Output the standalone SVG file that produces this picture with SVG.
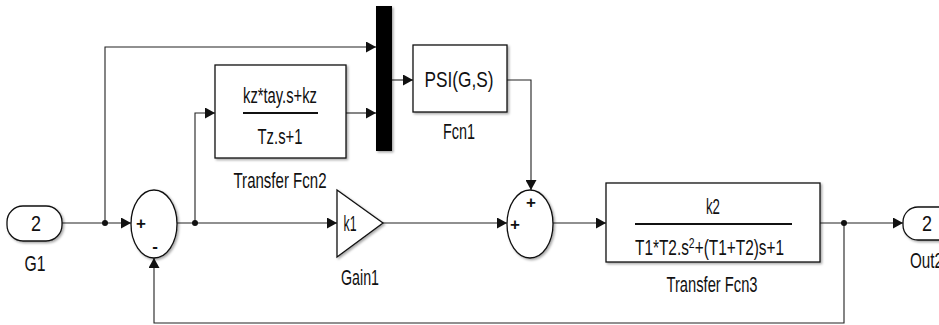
<svg xmlns="http://www.w3.org/2000/svg" width="939" height="325" viewBox="0 0 939 325">
<defs>
<style>
.blk{fill:#fff;stroke:#111;stroke-width:1.3}
.w{fill:none;stroke:#222;stroke-width:1.1}
.t{font-family:"Liberation Sans",Arial,sans-serif;font-size:22px;fill:#111}
.s{font-family:"Liberation Sans",Arial,sans-serif;font-size:17px;fill:#111;font-weight:bold;text-anchor:middle}
.m{text-anchor:middle}
.dot{fill:#111}
</style>
<marker id="ah" markerWidth="10" markerHeight="11" refX="10" refY="5.5" orient="auto" markerUnits="userSpaceOnUse">
<path d="M0,0 L10,5.5 L0,11 Z" fill="#111"/>
</marker>
<filter id="sh" x="-10%" y="-10%" width="130%" height="130%">
<feDropShadow dx="1.5" dy="1.5" stdDeviation="1" flood-color="#000" flood-opacity="0.35"/>
</filter>
</defs>

<g id="connectors">
<path class="w" d="M62,223 H131" marker-end="url(#ah)"/>
<path class="w" d="M105,223 V47 H376" marker-end="url(#ah)"/>
<path class="w" d="M177,223 H337" marker-end="url(#ah)"/>
<path class="w" d="M195,223 V113 H215" marker-end="url(#ah)"/>
<path class="w" d="M346,113 H376" marker-end="url(#ah)"/>
<path class="w" d="M392,80 H413" marker-end="url(#ah)"/>
<path class="w" d="M507,80 H531 V190" marker-end="url(#ah)"/>
<path class="w" d="M383,223 H507" marker-end="url(#ah)"/>
<path class="w" d="M552,223 H606" marker-end="url(#ah)"/>
<path class="w" d="M820,223 H903" marker-end="url(#ah)"/>
<path class="w" d="M844,223 V323 H154 V258" marker-end="url(#ah)"/>
<circle class="dot" cx="105" cy="223" r="3"/>
<circle class="dot" cx="195" cy="223" r="3"/>
<circle class="dot" cx="844" cy="223" r="3"/>
</g>

<g id="G1">
<rect class="blk" x="7" y="206" width="55" height="35" rx="16" filter="url(#sh)"/>
<text class="t m" x="36" y="231" textLength="10" lengthAdjust="spacingAndGlyphs">2</text>
<text class="t m" x="35" y="271" textLength="21" lengthAdjust="spacingAndGlyphs">G1</text>
</g>

<g id="Sum1">
<ellipse class="blk" cx="154" cy="224" rx="23" ry="34" filter="url(#sh)"/>
<text class="s" x="141" y="229">+</text>
<text class="s" x="155" y="252">-</text>
</g>

<g id="TransferFcn2">
<rect class="blk" x="215" y="65" width="131" height="93" filter="url(#sh)"/>
<text class="t m" x="280" y="103" textLength="74" lengthAdjust="spacingAndGlyphs">kz*tay.s+kz</text>
<line x1="243" y1="113" x2="318" y2="113" stroke="#111" stroke-width="2"/>
<text class="t m" x="280" y="144" textLength="45" lengthAdjust="spacingAndGlyphs">Tz.s+1</text>
<text class="t m" x="280" y="188" textLength="93" lengthAdjust="spacingAndGlyphs">Transfer Fcn2</text>
</g>

<g id="Mux">
<rect x="376" y="6" width="16" height="145" fill="#000" filter="url(#sh)"/>
</g>

<g id="Fcn1">
<rect class="blk" x="413" y="45" width="94" height="67" filter="url(#sh)"/>
<text class="t m" x="459" y="87" textLength="69" lengthAdjust="spacingAndGlyphs">PSI(G,S)</text>
<text class="t m" x="459" y="139" textLength="32" lengthAdjust="spacingAndGlyphs">Fcn1</text>
</g>

<g id="Gain1">
<polygon class="blk" points="337,190 383,223 337,257" filter="url(#sh)"/>
<text class="t m" x="350" y="231" textLength="13" lengthAdjust="spacingAndGlyphs">k1</text>
<text class="t m" x="360" y="285" textLength="38" lengthAdjust="spacingAndGlyphs">Gain1</text>
</g>

<g id="Sum2">
<ellipse class="blk" cx="530" cy="224" rx="23" ry="34" filter="url(#sh)"/>
<text class="s" x="531" y="208">+</text>
<text class="s" x="515" y="230">+</text>
</g>

<g id="TransferFcn3">
<rect class="blk" x="606" y="183" width="214" height="79" filter="url(#sh)"/>
<text class="t m" x="713" y="214" textLength="14" lengthAdjust="spacingAndGlyphs">k2</text>
<line x1="635" y1="224" x2="792" y2="224" stroke="#111" stroke-width="2"/>
<text class="t" transform="translate(635,255) scale(0.70,1)" x="0" y="0">T1*T2.s<tspan dy="-7" style="font-size:15px">2</tspan><tspan dy="7">+(T1+T2)s+1</tspan></text>
<text class="t m" x="712" y="292" textLength="91" lengthAdjust="spacingAndGlyphs">Transfer Fcn3</text>
</g>

<g id="Out2">
<rect class="blk" x="903" y="207" width="60" height="33" rx="15" filter="url(#sh)"/>
<text class="t m" x="927" y="231" textLength="10" lengthAdjust="spacingAndGlyphs">2</text>
<text class="t" x="910" y="268" textLength="33" lengthAdjust="spacingAndGlyphs">Out2</text>
</g>
</svg>
